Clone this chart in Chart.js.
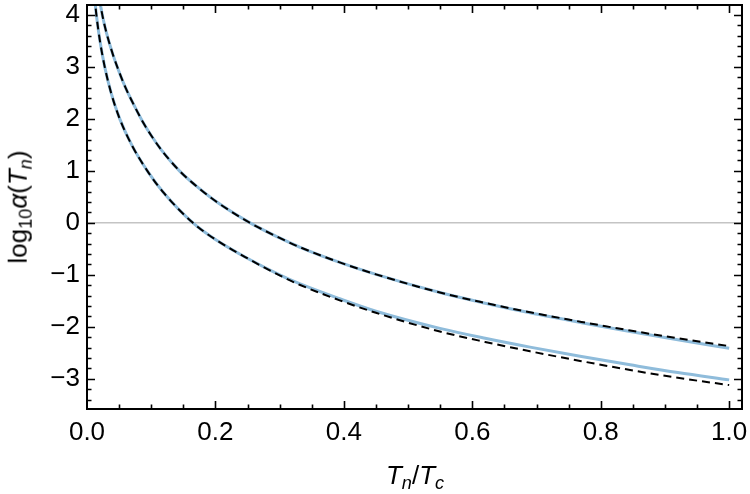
<!DOCTYPE html>
<html>
<head>
<meta charset="utf-8">
<script src="https://cdn.jsdelivr.net/npm/chart.js@4"></script>
<style>
  body { margin: 0; background: #fff; }
  #wrap { position: relative; width: 750px; height: 494px; font-family: "Liberation Sans", Arial, sans-serif; color: #000; }
  #chart { position: absolute; left: 0; top: 0; }
  .title { position: absolute; font-size: 26px; white-space: nowrap; line-height: 1; }
  .title sub { font-size: 70%; vertical-align: -0.3em; }
  #xtitle { left: 415px; top: 477px; transform: translate(-50%, -50%); }
  #ytitle { left: 20px; top: 207px; transform: translate(-50%, -50%) rotate(-90deg); }
</style>
</head>
<body>
<div id="wrap">
  <canvas id="chart" width="750" height="494"></canvas>
  <div class="title" id="xtitle"><i>T</i><sub><i>n</i></sub>/<i>T</i><sub><i>c</i></sub></div>
  <div class="title" id="ytitle">log<sub>10</sub><i>α</i>(<i>T</i><sub><i>n</i></sub>)</div>
</div>
<script>
// tick labels
const xTicks = [0, 0.2, 0.4, 0.6, 0.8, 1.0];
const yTicks = [-3, -2, -1, 0, 1, 2, 3, 4];

// upper curve (solid blue + dashed fit)
const upperX = [0.019, 0.025, 0.030, 0.040, 0.048, 0.060, 0.075, 0.087, 0.100, 0.116, 0.144, 0.170, 0.200, 0.254, 0.300, 0.331, 0.3935, 0.450, 0.5496, 0.620, 0.6899, 0.770, 0.8458, 0.920, 1.0];
const upperSolid = [4.32, 3.93, 3.67, 3.25, 2.97, 2.60, 2.22, 1.94, 1.68, 1.40, 1.00, 0.71, 0.42, 0.00, -0.29, -0.465, -0.76, -0.99, -1.34, -1.545, -1.73, -1.92, -2.09, -2.25, -2.41];
const upperDashed = [4.32, 3.93, 3.67, 3.25, 2.97, 2.60, 2.22, 1.94, 1.68, 1.40, 1.00, 0.71, 0.42, 0.00, -0.29, -0.465, -0.76, -0.99, -1.34, -1.54, -1.72, -1.905, -2.07, -2.22, -2.37];

// lower curve (solid blue + dashed fit)
const lowerX = [0.0115, 0.0146, 0.020, 0.0276, 0.038, 0.051, 0.070, 0.095, 0.120, 0.165, 0.200, 0.254, 0.300, 0.331, 0.3935, 0.450, 0.5496, 0.620, 0.6899, 0.770, 0.8458, 0.920, 1.0];
const lowerSolid = [4.37, 4.00, 3.51, 3.00, 2.48, 2.00, 1.49, 0.98, 0.57, 0.00, -0.32, -0.71, -1.00, -1.17, -1.46, -1.70, -2.03, -2.22, -2.39, -2.57, -2.73, -2.88, -3.02];
const lowerDashed = [4.37, 4.00, 3.51, 3.00, 2.48, 2.00, 1.49, 0.98, 0.57, 0.00, -0.32, -0.71, -1.01, -1.19, -1.49, -1.73, -2.09, -2.29, -2.47, -2.66, -2.83, -2.98, -3.12];

const pts = (arr, vals) => arr.map((x, i) => ({ x: x, y: vals[i] }));

const blue = 'rgb(143, 188, 219)';

function lineSet(data, color, width, dash) {
  return {
    data: data,
    borderColor: color,
    borderWidth: width,
    borderDash: dash,
    pointRadius: 0,
    fill: false,
    cubicInterpolationMode: 'monotone',
    clip: 0
  };
}

const frameTicks = {
  id: 'frameTicks',
  afterDatasetsDraw(chart) {
    const ctx = chart.ctx;
    const a = chart.chartArea;
    const sx = chart.scales.x, sy = chart.scales.y;
    ctx.save();
    ctx.strokeStyle = '#000';
    ctx.lineWidth = 1.6;
    ctx.beginPath();
    // x ticks bottom and top
    for (let i = 1; i <= 20; i++) {
      const px = Math.round(sx.getPixelForValue(i * 0.05)) + 0.5;
      const len = i % 4 === 0 ? 8 : 4.5;
      ctx.moveTo(px, a.bottom); ctx.lineTo(px, a.bottom - len);
      ctx.moveTo(px, a.top); ctx.lineTo(px, a.top + len);
    }
    // y ticks left and right
    for (let i = -17; i <= 20; i++) {
      const v = i * 0.2;
      if (v < sy.min || v > sy.max) continue;
      const py = Math.round(sy.getPixelForValue(v)) + 0.5;
      const len = i % 5 === 0 ? 8 : 4.5;
      ctx.moveTo(a.left, py); ctx.lineTo(a.left + len, py);
      ctx.moveTo(a.right, py); ctx.lineTo(a.right - len, py);
    }
    ctx.stroke();
    ctx.lineWidth = 2;
    ctx.strokeRect(a.left, a.top, a.right - a.left, a.bottom - a.top);
    ctx.restore();
  }
};

Chart.defaults.font.family = "'Liberation Sans', Arial, sans-serif";
Chart.defaults.font.size = 26;
Chart.defaults.color = '#000';

new Chart(document.getElementById('chart').getContext('2d'), {
  type: 'line',
  data: {
    datasets: [
      lineSet(pts(lowerX, lowerDashed), '#000', 2, [8, 5]),
      lineSet(pts(upperX, upperDashed), '#000', 2, [8, 5]),
      lineSet(pts(lowerX, lowerSolid), blue, 3, []),
      lineSet(pts(upperX, upperSolid), blue, 3, [])
    ]
  },
  options: {
    responsive: false,
    animation: false,
    devicePixelRatio: 1,
    layout: { padding: { top: 5, right: 8, left: 0, bottom: 0 } },
    plugins: { legend: { display: false }, tooltip: { enabled: false } },
    scales: {
      x: {
        type: 'linear',
        min: 0,
        max: 1.02,
        afterBuildTicks: s => { s.ticks = xTicks.map(v => ({ value: v })); },
        afterFit: s => { s.height = 85; s.paddingLeft = 0; s.paddingRight = 0; },
        ticks: { padding: 8, maxRotation: 0, autoSkip: false, callback: v => v.toFixed(1) },
        grid: { display: false, drawTicks: false },
        border: { display: false }
      },
      y: {
        type: 'linear',
        min: -3.58,
        max: 4.19,
        afterBuildTicks: s => { s.ticks = yTicks.map(v => ({ value: v })); },
        afterFit: s => { s.width = 87; s.paddingTop = 0; s.paddingBottom = 0; },
        ticks: { padding: 7, autoSkip: false, callback: v => (v < 0 ? '\u2212' + Math.abs(v) : String(v)) },
        grid: {
          drawTicks: false,
          lineWidth: 1.5,
          color: c => (c.tick && c.tick.value === 0 ? '#c4c4c4' : 'rgba(0,0,0,0)')
        },
        border: { display: false }
      }
    }
  },
  plugins: [frameTicks]
});
</script>
</body>
</html>
